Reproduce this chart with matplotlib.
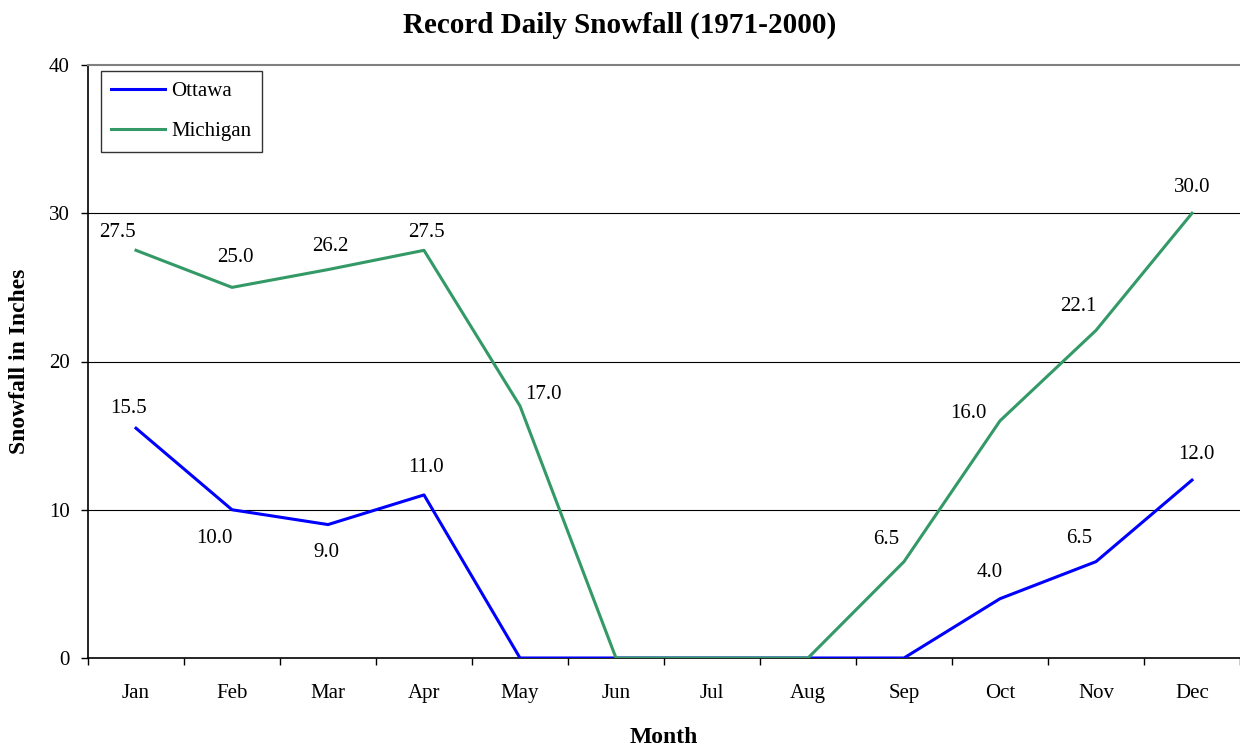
import matplotlib.pyplot as plt
import numpy as np

months = ['Jan', 'Feb', 'Mar', 'Apr', 'May', 'Jun', 'Jul', 'Aug', 'Sep', 'Oct', 'Nov', 'Dec']
ottawa = [15.5, 10.0, 9.0, 11.0, 0, 0, 0, 0, 0, 4.0, 6.5, 12.0]
michigan = [27.5, 25.0, 26.2, 27.5, 17.0, 0, 0, 0, 6.5, 16.0, 22.1, 30.0]

# label offsets in pixels (dx, dy up); None = no label
ottawa_off = [(-8, 20), (-18, -29), (-2, -28), (2, 27), None, None, None, None, None,
              (-10, 26), (-17, 23), (4, 26)]
michigan_off = [(-19, 18), (3, 30), (2, 23), (2, 18), (23, 11), None, None, None,
                (-18, 22), (-32, 7), (-18, 24), (0, 26)]

plt.rcParams['font.family'] = ['Liberation Serif', 'DejaVu Serif']

fig = plt.figure(figsize=(12.4, 7.51), dpi=100)
ax = fig.add_axes([88 / 1240, 1 - 658 / 751, 1 - 88 / 1240, (658 - 65) / 751])

x = np.arange(len(months))
ax.plot(x, ottawa, color='#0000FF', lw=2.2, label='Ottawa', zorder=3)
ax.plot(x, michigan, color='#339966', lw=2.2, label='Michigan', zorder=3)

for vals, offs in ((ottawa, ottawa_off), (michigan, michigan_off)):
    for i, (v, o) in enumerate(zip(vals, offs)):
        if o is None:
            continue
        ax.annotate(f'{v:.1f}', (i, v), xytext=(o[0] * 0.72, o[1] * 0.72),
                    textcoords='offset points', ha='center', va='center', fontsize=15)

ax.set_xlim(-0.5, 11.5)
ax.set_ylim(0, 40)
ax.set_yticks([0, 10, 20, 30, 40])
ax.set_xticks(x)
ax.set_xticklabels(months)
ax.set_xticks(np.arange(-0.5, 12, 1), minor=True)
ax.tick_params(axis='x', which='major', length=0, pad=19, labelsize=15)
ax.tick_params(axis='x', which='minor', length=5, width=1, direction='out')
ax.tick_params(axis='y', length=5, width=1, direction='out', pad=8, labelsize=15)

for yv in [10, 20, 30]:
    ax.axhline(yv, color='black', lw=0.8, zorder=1)
ax.spines['top'].set_color('#808080')
ax.spines['top'].set_linewidth(1.5)
ax.spines['right'].set_visible(False)
ax.spines['left'].set_linewidth(1.2)
ax.spines['bottom'].set_linewidth(1.2)

ax.set_xlabel('Month', fontsize=17, fontweight='bold', labelpad=17)
ax.set_ylabel('Snowfall in Inches', fontsize=17, fontweight='bold', labelpad=14)
fig.suptitle('Record Daily Snowfall (1971-2000)', fontsize=21, fontweight='bold', y=0.985)

leg = ax.legend(loc='upper left', bbox_to_anchor=(0.011, 0.99), fontsize=15,
                frameon=True, fancybox=False, edgecolor='black', handlelength=2.6,
                handletextpad=0.3, borderaxespad=0, labelspacing=1.0, borderpad=0.5)
leg.get_frame().set_linewidth(1)

fig.savefig('out.png', dpi=100)
